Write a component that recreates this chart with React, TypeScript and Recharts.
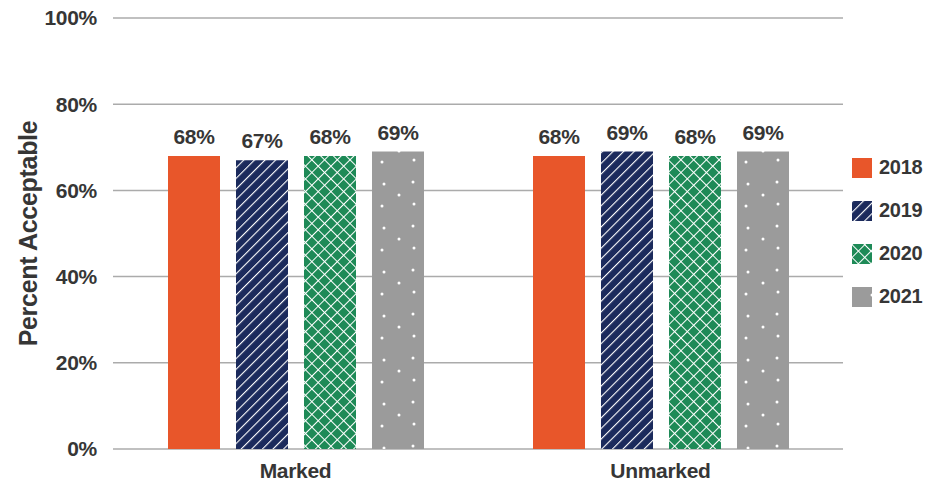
import React from 'react';
import {
  BarChart,
  Bar,
  XAxis,
  YAxis,
  CartesianGrid,
  Legend,
  LabelList,
} from 'recharts';

const categories = ['Marked', 'Unmarked'];
const years = ['2018', '2019', '2020', '2021'];
const values2018 = [68, 68];
const values2019 = [67, 69];
const values2020 = [68, 68];
const values2021 = [69, 69];
const yTicks = [0, 20, 40, 60, 80, 100];

const series = [values2018, values2019, values2020, values2021];
const fills = ['#E8562A', 'url(#stripes)', 'url(#hatch)', 'url(#dots)'];

const data = categories.map((category, i) => {
  const row: Record<string, string | number> = { category };
  years.forEach((y, j) => {
    row[y] = series[j][i];
  });
  return row;
});

const FONT = '"Liberation Sans", Arial, sans-serif';
const TEXT = '#363636';
const txt = (size: number) => ({
  fontSize: size,
  fontWeight: 700,
  fill: TEXT,
  fontFamily: FONT,
  letterSpacing: '-0.3px',
});

function LegendBox({ payload }: any) {
  return (
    <div style={{ fontFamily: FONT, letterSpacing: '-0.3px', fontWeight: 700, fontSize: 20, color: TEXT }}>
      {(payload || []).map((p: any) => (
        <div key={p.value} style={{ display: 'flex', alignItems: 'center', height: 43, whiteSpace: 'nowrap' }}>
          <svg width={20} height={20} style={{ marginRight: 7, flexShrink: 0 }}>
            <rect width={20} height={20} fill={p.color} />
          </svg>
          <span>{p.value}</span>
        </div>
      ))}
    </div>
  );
}

export default function App() {
  return (
    <div style={{ position: 'absolute', left: 0, top: 0 }}>
      <BarChart
        width={925}
        height={485}
        data={data}
        margin={{ top: 18, right: 2, left: 0, bottom: 6 }}
        barSize={52}
        barGap={16}
      >
        <defs>
          <pattern id="stripes" patternUnits="userSpaceOnUse" width={7.5} height={7.5} patternTransform="rotate(45)">
            <rect width={7.5} height={7.5} fill="#1B2A5C" />
            <line x1={0} y1={0} x2={0} y2={7.5} stroke="#ffffff" strokeWidth={2.2} />
          </pattern>
          <pattern id="hatch" patternUnits="userSpaceOnUse" width={9} height={9} patternTransform="rotate(45)">
            <rect width={9} height={9} fill="#1E8A57" />
            <line x1={0} y1={0} x2={0} y2={9} stroke="#ffffff" strokeWidth={2} />
            <line x1={0} y1={0} x2={9} y2={0} stroke="#ffffff" strokeWidth={2} />
          </pattern>
          <pattern id="dots" patternUnits="userSpaceOnUse" width={52} height={44}>
            <rect width={52} height={44} fill="#9B9B9B" />
            <circle cx={20} cy={8} r={1.5} fill="#ffffff" />
            <circle cx={49} cy={6} r={1.5} fill="#ffffff" />
            <circle cx={18} cy={30} r={1.5} fill="#ffffff" />
            <circle cx={50} cy={28} r={1.5} fill="#ffffff" />
            <circle cx={35} cy={19} r={1.5} fill="#ffffff" />
          </pattern>
        </defs>
        <CartesianGrid vertical={false} stroke="#ababab" strokeWidth={1.5} />
        <XAxis
          dataKey="category"
          height={30}
          tickLine={false}
          axisLine={false}
          tick={txt(21)}
          tickMargin={8}
        />
        <YAxis
          domain={[0, 100]}
          ticks={yTicks}
          width={113}
          tickLine={false}
          axisLine={false}
          tickMargin={10}
          tickFormatter={(v) => `${v}%`}
          tick={txt(21)}
          label={{
            value: 'Percent Acceptable',
            angle: -90,
            position: 'insideLeft',
            offset: 28,
            style: { ...txt(25), textAnchor: 'middle' },
          }}
        />
        <Legend
          layout="vertical"
          align="right"
          verticalAlign="middle"
          width={80}
          wrapperStyle={{ top: 146, left: 852 }}
          content={<LegendBox />}
        />
        {years.map((y, j) => (
          <Bar key={y} dataKey={y} name={y} fill={fills[j]} isAnimationActive={false}>
            <LabelList
              dataKey={y}
              position="top"
              offset={12}
              formatter={(v: any) => `${v}%`}
              style={txt(21)}
            />
          </Bar>
        ))}
      </BarChart>
    </div>
  );
}
